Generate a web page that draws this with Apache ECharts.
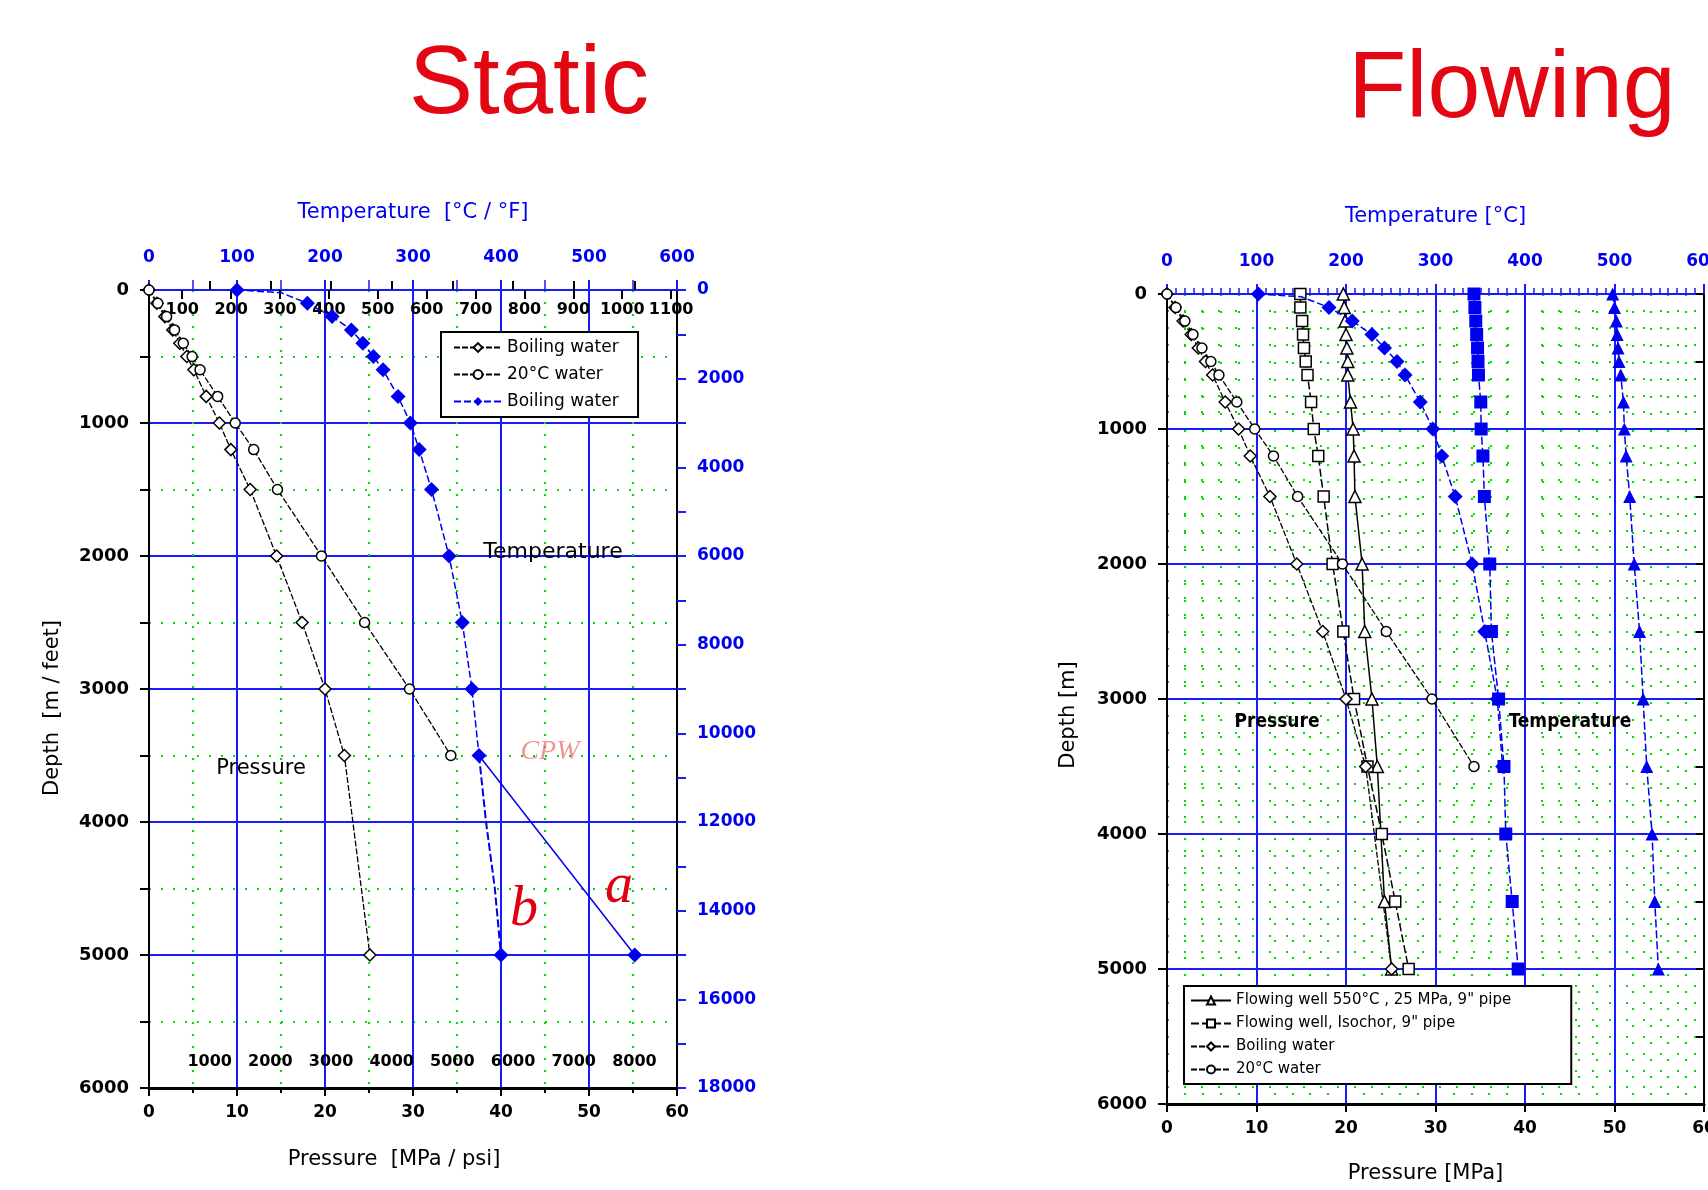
<!DOCTYPE html>
<html>
<head>
<meta charset="utf-8">
<script src="https://cdn.jsdelivr.net/npm/echarts@6/dist/echarts.min.js"></script>
<style>html,body{margin:0;padding:0;background:#fff}#c{width:1708px;height:1190px}</style>
</head>
<body>
<div id="c"></div>
<script>
// ---------- DATA ----------
// Static well (left panel)
const depthStatic = [0, 100, 200, 300, 400, 500, 600, 800, 1000, 1200, 1500, 2000, 2500, 3000, 3500, 5000];
const pBoilingStatic = [0, 0.9, 1.8, 2.7, 3.5, 4.3, 5.1, 6.5, 8.0, 9.3, 11.5, 14.5, 17.4, 20.0, 22.2, 25.1];
const depth20C = [0, 100, 200, 300, 400, 500, 600, 800, 1000, 1200, 1500, 2000, 2500, 3000, 3500];
const p20CStatic = [0, 1.0, 2.0, 2.9, 3.9, 4.9, 5.8, 7.8, 9.8, 11.9, 14.6, 19.6, 24.5, 29.6, 34.3];
const depthTempBoiling = [0, 20, 100, 200, 300, 400, 500, 600, 800, 1000, 1200, 1500, 2000, 2500, 3000, 3500];
const tBoilingStatic = [100, 150, 180, 208, 230, 243, 255, 266, 283, 297, 307, 321, 341, 356, 367, 375];
const depthBranchA = [3500, 5000];
const tBranchA = [375, 552];
const depthBranchB = [3500, 4000, 4500, 5000];
const tBranchB = [375, 383, 393, 400];

// Flowing well (right panel)
const depthFlow = [0, 100, 200, 300, 400, 500, 600, 800, 1000, 1200, 1500, 2000, 2500, 3000, 3500, 4000, 4500, 5000];
const pIsochor = [14.9, 14.9, 15.1, 15.2, 15.3, 15.5, 15.7, 16.1, 16.4, 16.9, 17.5, 18.5, 19.7, 20.9, 22.4, 24.0, 25.5, 27.0];
const depth550 = [0, 100, 200, 300, 400, 500, 600, 800, 1000, 1200, 1500, 2000, 2500, 3000, 3500, 4500, 5000];
const p550 = [19.7, 19.8, 19.9, 20.0, 20.1, 20.2, 20.2, 20.5, 20.8, 20.9, 21.0, 21.8, 22.1, 22.9, 23.5, 24.3, 25.1];
const tBoilingFlow = [102, 150, 181, 207, 229, 243, 257, 266, 283, 297, 307, 322, 341, 355, 369, 375];
const tIsochor = [343, 344, 345, 346, 347, 347.5, 348, 350.6, 351, 353, 354.6, 360.6, 362.5, 370.5, 376.5, 378.5, 385.7, 392.4];
const t550 = [498, 500, 502, 503, 504, 505, 507, 510, 511, 513, 517, 522, 528, 532, 536, 542, 545, 549];

// Tick labels
const fahrenheitTicks = [100, 200, 300, 400, 500, 600, 700, 800, 900, 1000, 1100];
const psiTicks = [1000, 2000, 3000, 4000, 5000, 6000, 7000, 8000];

// ---------- STYLE ----------
const FONT = 'DejaVu Sans';
const BLUE = '#1a1aff';
const MBLUE = '#0000f0';
const GREEN = '#00dd00';
const RED = '#e30613';
const plain = v => String(v);

const zip = (xs, ys) => xs.map((x, i) => [x, ys[i]]);
const hideIdx = (arr, idxs) => arr.map((v, i) => idxs.includes(i) ? { value: v, symbol: 'none' } : v);

const openItem = { color: '#fff', borderColor: '#000', borderWidth: 1.5 };
const blackLine = { color: '#000', width: 1.3, type: [6, 2] };
const blueLine = { color: MBLUE, width: 1.5, type: [7, 3] };

function pressureAxis(grid, minorSplit, minorStyle) {
  return {
    gridIndex: grid, type: 'value', position: 'bottom', min: 0, max: 60, interval: 10,
    axisLine: { show: true, onZero: false, lineStyle: { color: '#000', width: 3 } },
    axisTick: { show: true, length: 8, lineStyle: { color: '#000', width: 2 } },
    minorTick: { show: minorSplit === 2, splitNumber: minorSplit, length: 5, lineStyle: { color: '#000', width: 2 } },
    axisLabel: { color: '#000', fontSize: 17, fontWeight: 'bold', fontFamily: FONT, margin: 16, formatter: plain },
    splitLine: { show: true, lineStyle: { color: BLUE, width: 2 } },
    minorSplitLine: { show: true, lineStyle: minorStyle }
  };
}
function tempAxis(grid, name, minorSplit, minorLen) {
  return {
    gridIndex: grid, type: 'value', position: 'top', min: 0, max: 600, interval: 100,
    name: name, nameLocation: 'middle', nameGap: 67,
    nameTextStyle: { color: MBLUE, fontSize: 21, fontFamily: FONT },
    axisLine: { show: true, onZero: false, lineStyle: { color: BLUE, width: 2 } },
    axisTick: { show: true, length: 10, lineStyle: { color: BLUE, width: 2 } },
    minorTick: { show: true, splitNumber: minorSplit, length: minorLen, lineStyle: { color: BLUE, width: 1.5 } },
    axisLabel: { color: MBLUE, fontSize: 17, fontWeight: 'bold', fontFamily: FONT, margin: 24, formatter: plain },
    splitLine: { show: false }
  };
}

const leftMinor = { color: GREEN, width: 2.2, type: [2, 10] };
const rightMinor = { color: GREEN, width: 2.2, type: [2, 15] };

const option = {
  animation: false,
  backgroundColor: '#fff',
  grid: [
    { left: 149, top: 290, width: 528, height: 798, outerBoundsMode: 'none', containLabel: false },
    { left: 1167, top: 294, width: 537, height: 810, outerBoundsMode: 'none', containLabel: false }
  ],
  xAxis: [
    Object.assign(pressureAxis(0, 2, leftMinor), {
      name: 'Pressure  [MPa / psi]', nameLocation: 'middle', nameGap: 61,
      nameTextStyle: { color: '#000', fontSize: 21, fontFamily: FONT, padding: [0, 38, 0, 0] }
    }),
    tempAxis(0, 'Temperature  [°C / °F]', 2, 10),
    {
      gridIndex: 0, type: 'value', position: 'top', min: 32, max: 1112,
      axisLine: { show: false },
      axisTick: { show: true, inside: true, length: 9, customValues: fahrenheitTicks, lineStyle: { color: '#000', width: 2 } },
      axisLabel: { show: true, inside: true, customValues: fahrenheitTicks, color: '#000', fontSize: 16, fontWeight: 'bold', fontFamily: FONT, margin: 12, formatter: plain },
      splitLine: { show: false }
    },
    {
      gridIndex: 0, type: 'value', position: 'bottom', min: 0, max: 60 / 0.00689476,
      axisLine: { show: false },
      axisTick: { show: true, inside: true, length: 9, customValues: psiTicks, lineStyle: { color: '#000', width: 2 } },
      axisLabel: { show: true, inside: true, customValues: psiTicks, color: '#000', fontSize: 16, fontWeight: 'bold', fontFamily: FONT, margin: 18, formatter: plain },
      splitLine: { show: false }
    },
    Object.assign(pressureAxis(1, 5, rightMinor), {
      name: 'Pressure [MPa]', nameLocation: 'middle', nameGap: 59,
      nameTextStyle: { color: '#000', fontSize: 21, fontFamily: FONT, padding: [0, 20, 0, 0] }
    }),
    tempAxis(1, 'Temperature [°C]', 10, 6)
  ],
  yAxis: [
    {
      gridIndex: 0, type: 'value', position: 'left', inverse: true, min: 0, max: 6000, interval: 1000,
      name: 'Depth  [m / feet]', nameLocation: 'middle', nameGap: 86,
      nameTextStyle: { color: '#000', fontSize: 21, fontFamily: FONT, padding: [0, 38, 0, 0] },
      axisLine: { show: true, onZero: false, lineStyle: { color: '#000', width: 2 } },
      axisTick: { show: true, length: 9, lineStyle: { color: '#000', width: 2 } },
      minorTick: { show: true, splitNumber: 2, length: 9, lineStyle: { color: '#000', width: 2 } },
      axisLabel: { color: '#000', fontSize: 18, fontWeight: 'bold', fontFamily: FONT, margin: 20, formatter: plain },
      splitLine: { show: true, lineStyle: { color: BLUE, width: 2 } },
      minorSplitLine: { show: true, lineStyle: leftMinor }
    },
    {
      gridIndex: 0, type: 'value', position: 'right', inverse: true, min: 0, max: 18000, interval: 2000,
      axisLine: { show: true, onZero: false, lineStyle: { color: '#000', width: 2 } },
      axisTick: { show: true, length: 9, lineStyle: { color: BLUE, width: 2 } },
      minorTick: { show: true, splitNumber: 2, length: 9, lineStyle: { color: BLUE, width: 2 } },
      axisLabel: { color: MBLUE, fontSize: 17, fontWeight: 'bold', fontFamily: FONT, margin: 20, formatter: plain },
      splitLine: { show: false }
    },
    {
      gridIndex: 1, type: 'value', position: 'left', inverse: true, min: 0, max: 6000, interval: 1000,
      name: 'Depth [m]', nameLocation: 'middle', nameGap: 88,
      nameTextStyle: { color: '#000', fontSize: 21, fontFamily: FONT, padding: [0, 32, 0, 0] },
      axisLine: { show: true, onZero: false, lineStyle: { color: '#000', width: 2 } },
      axisTick: { show: true, length: 9, lineStyle: { color: '#000', width: 2 } },
      minorTick: { show: false, splitNumber: 8 },
      axisLabel: { color: '#000', fontSize: 18, fontWeight: 'bold', fontFamily: FONT, margin: 20, formatter: plain },
      splitLine: { show: true, lineStyle: { color: BLUE, width: 2 } },
      minorSplitLine: { show: true, lineStyle: rightMinor }
    },
    {
      gridIndex: 1, type: 'value', position: 'right', inverse: true, min: 0, max: 6000, interval: 1000,
      axisLine: { show: true, onZero: false, lineStyle: { color: '#000', width: 2 } },
      axisTick: { show: true, inside: true, length: 8, lineStyle: { color: '#000', width: 2 } },
      minorTick: { show: true, splitNumber: 2, length: 8, lineStyle: { color: '#000', width: 2 } },
      axisLabel: { show: false },
      splitLine: { show: false }
    }
  ],
  legend: [
    {
      left: 441, top: 332, orient: 'vertical', itemGap: 10, itemWidth: 48, itemHeight: 11,
      padding: [7, 14, 7, 12], borderColor: '#000', borderWidth: 2, backgroundColor: '#fff',
      textStyle: { color: '#000', fontSize: 17, fontFamily: FONT },
      data: ['Boiling water', '20°C water', 'Boiling water ']
    },
    {
      left: 1184, top: 986, orient: 'vertical', itemGap: 8, itemWidth: 40, itemHeight: 10,
      padding: [7, 60, 7, 6], borderColor: '#000', borderWidth: 2, backgroundColor: '#fff',
      textStyle: { color: '#000', fontSize: 15, fontFamily: FONT },
      data: ['Flowing well 550°C , 25 MPa, 9" pipe', 'Flowing well, Isochor, 9" pipe', 'Boiling water  ', '20°C water  ']
    }
  ],
  series: [
    // ----- left panel -----
    { name: 'Boiling water', type: 'line', xAxisIndex: 0, yAxisIndex: 0, symbol: 'diamond', symbolSize: 12,
      itemStyle: openItem, lineStyle: blackLine, data: zip(pBoilingStatic, depthStatic), z: 5 },
    { name: '20°C water', type: 'line', xAxisIndex: 0, yAxisIndex: 0, symbol: 'circle', symbolSize: 10,
      itemStyle: openItem, lineStyle: blackLine, data: zip(p20CStatic, depth20C), z: 5 },
    { name: 'Boiling water ', type: 'line', xAxisIndex: 1, yAxisIndex: 0, symbol: 'diamond', symbolSize: 15,
      itemStyle: { color: MBLUE }, lineStyle: blueLine,
      data: hideIdx(zip(tBoilingStatic, depthTempBoiling), [1]), z: 6 },
    { name: 'a', type: 'line', xAxisIndex: 1, yAxisIndex: 0, symbol: 'diamond', symbolSize: 15,
      itemStyle: { color: MBLUE }, lineStyle: { color: MBLUE, width: 1.5 },
      data: hideIdx(zip(tBranchA, depthBranchA), [0]), z: 6 },
    { name: 'b', type: 'line', xAxisIndex: 1, yAxisIndex: 0, symbol: 'diamond', symbolSize: 15,
      itemStyle: { color: MBLUE }, lineStyle: { color: MBLUE, width: 2, type: [8, 3] },
      data: hideIdx(zip(tBranchB, depthBranchB), [0, 1, 2]), z: 6 },
    // ----- right panel -----
    { name: 'Flowing well 550°C , 25 MPa, 9" pipe', type: 'line', xAxisIndex: 4, yAxisIndex: 2, symbol: 'triangle', symbolSize: 12,
      itemStyle: openItem, lineStyle: { color: '#000', width: 1.5 }, data: zip(p550, depth550), z: 5 },
    { name: 'Flowing well, Isochor, 9" pipe', type: 'line', xAxisIndex: 4, yAxisIndex: 2, symbol: 'rect', symbolSize: 11,
      itemStyle: openItem, lineStyle: { color: '#000', width: 1.5, type: [8, 3] }, data: zip(pIsochor, depthFlow), z: 5 },
    { name: 'Boiling water  ', type: 'line', xAxisIndex: 4, yAxisIndex: 2, symbol: 'diamond', symbolSize: 12,
      itemStyle: openItem, lineStyle: blackLine, data: zip(pBoilingStatic, depthStatic), z: 5 },
    { name: '20°C water  ', type: 'line', xAxisIndex: 4, yAxisIndex: 2, symbol: 'circle', symbolSize: 10,
      itemStyle: openItem, lineStyle: blackLine, data: zip(p20CStatic, depth20C), z: 5 },
    { name: 'T boiling', type: 'line', xAxisIndex: 5, yAxisIndex: 2, symbol: 'diamond', symbolSize: 15,
      itemStyle: { color: MBLUE }, lineStyle: blueLine,
      data: hideIdx(zip(tBoilingFlow, depthTempBoiling), [1]), z: 6 },
    { name: 'T isochor', type: 'line', xAxisIndex: 5, yAxisIndex: 2, symbol: 'rect', symbolSize: 13,
      itemStyle: { color: MBLUE }, lineStyle: { color: MBLUE, width: 1.5, type: [8, 3] },
      data: zip(tIsochor, depthFlow), z: 6 },
    { name: 'T 550', type: 'line', xAxisIndex: 5, yAxisIndex: 2, symbol: 'triangle', symbolSize: 13,
      itemStyle: { color: MBLUE }, lineStyle: { color: MBLUE, width: 1.5, type: [8, 3] },
      data: zip(t550, depthFlow), z: 6 }
  ],
  graphic: [
    { type: 'text', x: 529, y: 87, z: 100, style: { text: 'Static', fill: RED, font: '96px "Liberation Sans", Arial, sans-serif', align: 'center', verticalAlign: 'middle' } },
    { type: 'text', x: 1512, y: 91, z: 100, style: { text: 'Flowing', fill: RED, font: '95px "Liberation Sans", Arial, sans-serif', align: 'center', verticalAlign: 'middle' } },
    { type: 'text', x: 553, y: 552, z: 100, style: { text: 'Temperature', fill: '#000', font: '22px "DejaVu Sans"', align: 'center', verticalAlign: 'middle' } },
    { type: 'text', x: 261, y: 769, z: 100, style: { text: 'Pressure', fill: '#000', font: '21px "DejaVu Sans"', align: 'center', verticalAlign: 'middle' } },
    { type: 'text', x: 550, y: 752, z: 100, style: { text: 'CPW', fill: 'rgba(235,90,90,0.65)', font: 'italic 28px "Liberation Serif"', align: 'center', verticalAlign: 'middle' } },
    { type: 'text', x: 619, y: 887, z: 100, style: { text: 'a', fill: '#e00010', font: 'italic 56px "Liberation Serif", serif', align: 'center', verticalAlign: 'middle' } },
    { type: 'text', x: 524, y: 910, z: 100, style: { text: 'b', fill: '#e00010', font: 'italic 56px "Liberation Serif", serif', align: 'center', verticalAlign: 'middle' } },
    { type: 'text', x: 1277, y: 722, z: 100, style: { text: 'Pressure', fill: '#000', font: 'bold 19px "DejaVu Sans Condensed", "DejaVu Sans"', align: 'center', verticalAlign: 'middle' } },
    { type: 'text', x: 1570, y: 722, z: 100, style: { text: 'Temperature', fill: '#000', font: 'bold 19px "DejaVu Sans Condensed", "DejaVu Sans"', align: 'center', verticalAlign: 'middle' } }
  ]
};

const chart = echarts.init(document.getElementById('c'), null, { renderer: 'canvas', width: 1708, height: 1190 });
chart.setOption(option);
</script>
</body>
</html>
